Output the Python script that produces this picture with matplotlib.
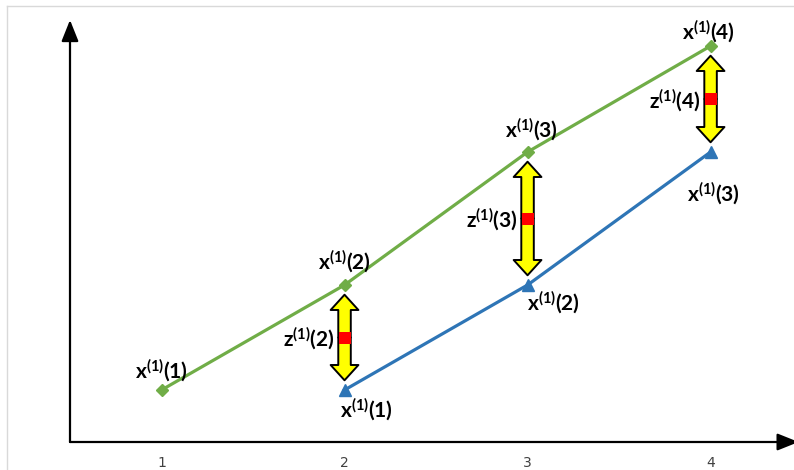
import matplotlib.pyplot as plt
from matplotlib.patches import FancyArrowPatch
from matplotlib.lines import Line2D

# data (schematic units)
x_green = [1, 2, 3, 4]
y_green = [0.52, 1.57, 2.90, 3.96]
x_blue = [2, 3, 4]
y_blue = [0.52, 1.57, 2.90]
green_labels = ['1', '2', '3', '4']
blue_labels = ['1', '2', '3']
z_labels = ['2', '3', '4']
xticks = [1, 2, 3, 4]

GREEN = '#70AD47'
BLUE = '#2E75B6'

plt.rcParams['mathtext.fontset'] = 'custom'
plt.rcParams['mathtext.bf'] = 'Lato:bold'
plt.rcParams['mathtext.rm'] = 'Lato'

fig = plt.figure(figsize=(7.94, 4.70), dpi=100)
ax = fig.add_axes([70 / 794, 28 / 470, 720 / 794, 422 / 470])
ax.set_xlim(0.5, 4.434)
ax.set_ylim(0, 4.22)

for s in ax.spines.values():
    s.set_visible(False)
ax.set_yticks([])
ax.set_xticks(xticks)
ax.set_xticklabels([str(t) for t in xticks], fontsize=10, color='#404040',
                   family='Liberation Sans Narrow')
ax.tick_params(axis='x', length=0, pad=10)

# axes with arrow heads
ax.annotate('', xy=(0, 1), xytext=(0, 0), xycoords='axes fraction',
            arrowprops=dict(arrowstyle='-|>,head_length=1.0,head_width=0.4',
                            lw=1.6, color='black', shrinkA=0, shrinkB=0,
                            mutation_scale=13), annotation_clip=False)
ax.annotate('', xy=(1.012, 0), xytext=(0, 0), xycoords='axes fraction',
            arrowprops=dict(arrowstyle='-|>,head_length=1.0,head_width=0.4',
                            lw=1.6, color='black', shrinkA=0, shrinkB=0,
                            mutation_scale=13), annotation_clip=False)

# series
ax.plot(x_green, y_green, color=GREEN, lw=2.3, marker='D', markersize=6,
        zorder=3)
ax.plot(x_blue, y_blue, color=BLUE, lw=2.3, marker='^', markersize=9,
        zorder=3)

# double arrows between the lines
for i, xb in enumerate(x_blue):
    yg = y_green[xb - 1]
    yb = y_blue[i]
    ym = (yg + yb) / 2
    for yend in (yg, yb):
        arr = FancyArrowPatch((xb, ym), (xb, yend),
                              arrowstyle='simple,head_length=11,head_width=20,tail_width=9',
                              mutation_scale=1, shrinkA=0, shrinkB=7,
                              facecolor='#FFFF00', edgecolor='black', lw=1.4,
                              zorder=4)
        ax.add_patch(arr)
    ax.plot(xb, ym, marker='s', markersize=9, color='#FF0000', zorder=5,
            markeredgewidth=0)
    ax.annotate(r'$\mathbf{z^{(1)}(%s)}$' % z_labels[i], (xb, ym),
                xytext=(-7, -1), textcoords='offset points', ha='right',
                va='center', fontsize=15, zorder=6)

# point labels
g_off = [(0, 14), (0, 16.5), (3, 16), (-1.5, 10)]
for i in range(len(x_green)):
    ax.annotate(r'$\mathbf{x^{(1)}(%s)}$' % green_labels[i],
                (x_green[i], y_green[i]), xytext=g_off[i],
                textcoords='offset points', ha='center', va='center',
                fontsize=15, zorder=6)
b_off = [(16, -14.5), (19, -12.5), (2, -30)]
for i in range(len(x_blue)):
    ax.annotate(r'$\mathbf{x^{(1)}(%s)}$' % blue_labels[i],
                (x_blue[i], y_blue[i]), xytext=b_off[i],
                textcoords='offset points', ha='center', va='center',
                fontsize=15, zorder=6)

# faint frame of the original picture
fig.add_artist(Line2D([7 / 794, 1], [1 - 6 / 470, 1 - 6 / 470],
                      color='#d9d9d9', lw=1))
fig.add_artist(Line2D([7 / 794, 7 / 794], [0, 1 - 6 / 470],
                      color='#d9d9d9', lw=1))

fig.savefig('out.png', dpi=100)
